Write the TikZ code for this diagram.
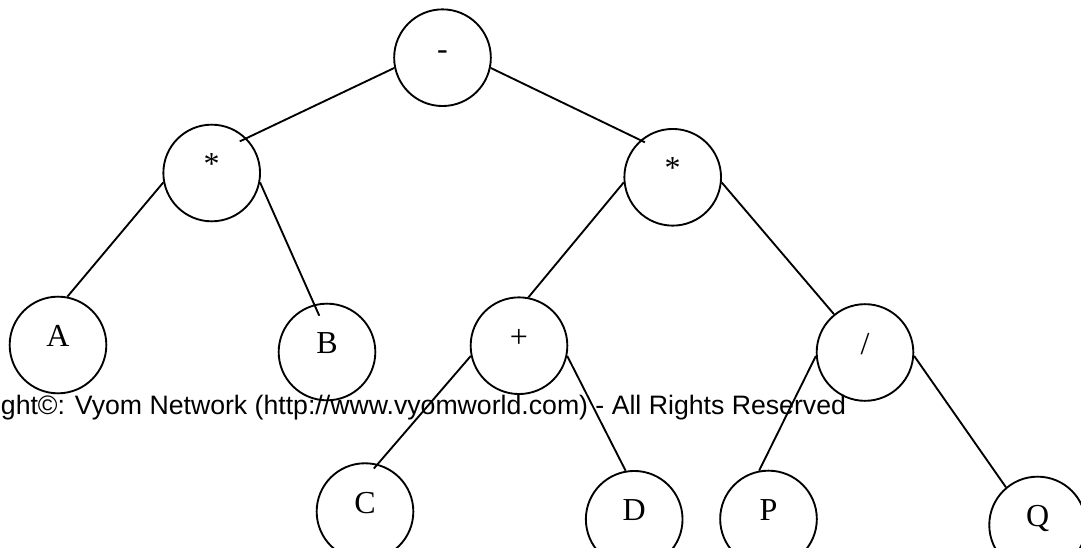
\documentclass[tikz,border=0pt]{standalone}
\usepackage{fontspec}
\setmainfont{Liberation Serif}
\setsansfont{Liberation Sans}

\begin{document}
\begin{tikzpicture}[x = 0.75pt, y = -0.75pt, line width = 1.4pt]
	\tikzstyle{every node} = [circle, draw = black, minimum size = 72.5pt, inner sep = 0pt, font = \fontsize{24}{24}\selectfont, text height = 0.5em, text depth = 0.25em]
	\useasboundingbox (0, 0) rectangle (1081, 548);
\node[scale = 1] (0) at (442.5, 57.7) {-};
\node[scale = 1] (1) at (211.7, 173) {*};
\node[scale = 1] (2) at (672.7, 177.3) {*};
\node[scale = 1] (3) at (58, 345) {A};
\node[scale = 1] (4) at (327, 352) {B};
\node[scale = 1] (5) at (519, 345.7) {+};
\node[scale = 1] (6) at (865, 352.5) {/};
\node[scale = 1] (7) at (365, 511.6) {C};
\node[scale = 1] (8) at (634.2, 519.3) {D};
\node[scale = 1] (9) at (768.5, 519) {P};
\node[scale = 1] (10) at (1037.6, 525) {Q};
\node[draw = none, rectangle, anchor = base west, font = \fontsize{20}{20}\selectfont\sffamily] (11) at (0, 415) {ght©: Vyom Network (http://www.vyomworld.com) - All Rights Reserved};
	\path[draw, shorten >= -5.6pt] (0.192) -- (1.45);
	\path[draw, shorten >= -3.8pt] (0.348) -- (2.131);
	\path[draw] (1.191) -- (3.79);
	\path[draw, shorten >= -9.3pt] (1.349) -- (4.105);
	\path[draw] (2.186) -- (5.79);
	\path[draw] (2.354) -- (6.129);
	\path[draw, shorten >= -4.5pt] (5.192) -- (7.75);
	\path[draw] (5.348) -- (8.100);
	\path[draw] (6.184) -- (9.101);
	\path[draw] (6.356) -- (10.130);
\end{tikzpicture}
\end{document}
